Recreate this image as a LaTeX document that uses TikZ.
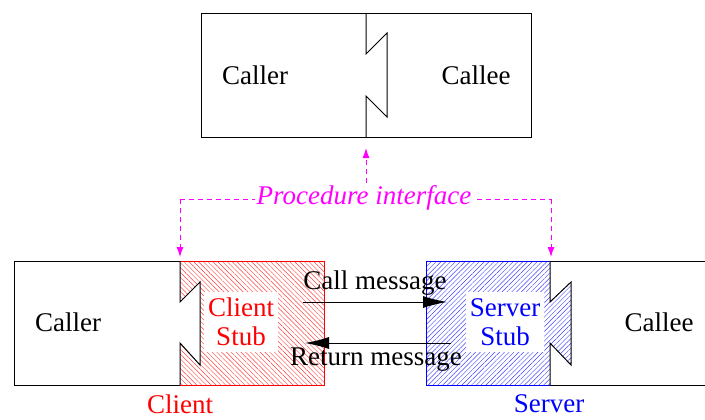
\documentclass[tikz,border=0pt]{standalone}
\usepackage{fontspec}
\setmainfont{Liberation Serif}
\usetikzlibrary{arrows.meta,patterns.meta}
\definecolor{ifacemag}{RGB}{255,0,255}
\definecolor{clientred}{RGB}{255,0,0}
\definecolor{serverblue}{RGB}{0,0,255}
\tikzset{
  lbl/.style={font=\fontsize{13.5}{14}\selectfont, inner sep=1pt},
  stublbl/.style={lbl, font=\fontsize{13.5}{14.5}\selectfont, fill=white, align=center, inner xsep=2pt, inner ysep=3pt},
  iface/.style={ifacemag, line width=0.5pt, dash pattern=on 2.5pt off 2pt},
  ifacetip/.style={iface, -{Latex[length=5pt,width=3.5pt]}},
  msg/.style={line width=0.5pt, -{Latex[length=12pt,width=6pt]}},
  clienthatch/.style={pattern={Lines[angle=-45,distance=1.7pt,line width=0.22pt]}, pattern color=clientred!75},
  serverhatch/.style={pattern={Lines[angle=45,distance=1.7pt,line width=0.22pt]}, pattern color=serverblue!75},
}
\begin{document}
\begin{tikzpicture}[x=0.5pt,y=-0.5pt,line width=0.5pt]
  \useasboundingbox (0,0) rectangle (705,419);
  % local call
  \draw (201,13) rectangle (531,137);
  \draw (366,13) -- (366,54) -- (387,33) -- (387,117) -- (366,96) -- (366,137);
  \node[lbl] (caller) at (255,75) {Caller};
  \node[lbl] (callee) at (476,75) {Callee};
  \coordinate (topjoin) at (366,148);

  % hatched stubs
  \path[clienthatch] (180,261) -- (324,261) -- (324,385) -- (180,385) -- (180,343)
    -- (200,365) -- (200,282) -- (180,302) -- cycle;
  \path[serverhatch] (426,261) -- (550,261) -- (550,302) -- (571,282) -- (571,365)
    -- (550,343) -- (550,385) -- (426,385) -- cycle;
  \draw[clientred] (180,261) -- (324,261) -- (324,385) -- (180,385);
  \draw[serverblue] (550,261) -- (426,261) -- (426,385) -- (550,385);

  % client side
  \draw (180,261) -- (14,261) -- (14,385) -- (180,385);
  \draw (180,261) -- (180,302) -- (200,282) -- (200,365) -- (180,343) -- (180,385);
  \node[lbl] (rcaller) at (68,322) {Caller};
  \node[stublbl, text=clientred] (cstub) at (241,322) {Client\\Stub};
  \node[lbl, text=clientred] (client) at (180,404) {Client};
  \coordinate (cjoin) at (180,257);

  % server side
  \draw (550,261) -- (720,261);
  \draw (550,385) -- (720,385);
  \draw (550,261) -- (550,302) -- (571,282) -- (571,365) -- (550,343) -- (550,385);
  \node[lbl] (rcallee) at (659,322) {Callee};
  \node[stublbl, text=serverblue] (sstub) at (505,322) {Server\\Stub};
  \node[lbl, text=serverblue] (server) at (549,404) {Server};
  \coordinate (sjoin) at (551,257);

  % messages
  \coordinate (callA) at (303,302);
  \coordinate (callB) at (447,302);
  \coordinate (retA) at (451,343);
  \coordinate (retB) at (305,343);
  \draw[msg] (callA) -- (callB);
  \draw[msg] (retA) -- (retB);
  \node[lbl] (callmsg) at (375,283) {Call message};
  \node[lbl] (retmsg) at (376,360) {Return message};

  % procedure interface
  \coordinate (pleft) at (180,199);
  \coordinate (pright) at (551,199);
  \draw[iface] (pleft) -- (pright);
  \node[lbl, text=ifacemag, fill=white, font=\fontsize{13.5}{14}\selectfont\itshape] (proc) at (364,198) {Procedure interface};
  \draw[ifacetip] (pleft) -- (cjoin);
  \draw[ifacetip] (pright) -- (sjoin);
  \draw[ifacetip] (proc.north -| topjoin) -- (topjoin);
\end{tikzpicture}
\end{document}
